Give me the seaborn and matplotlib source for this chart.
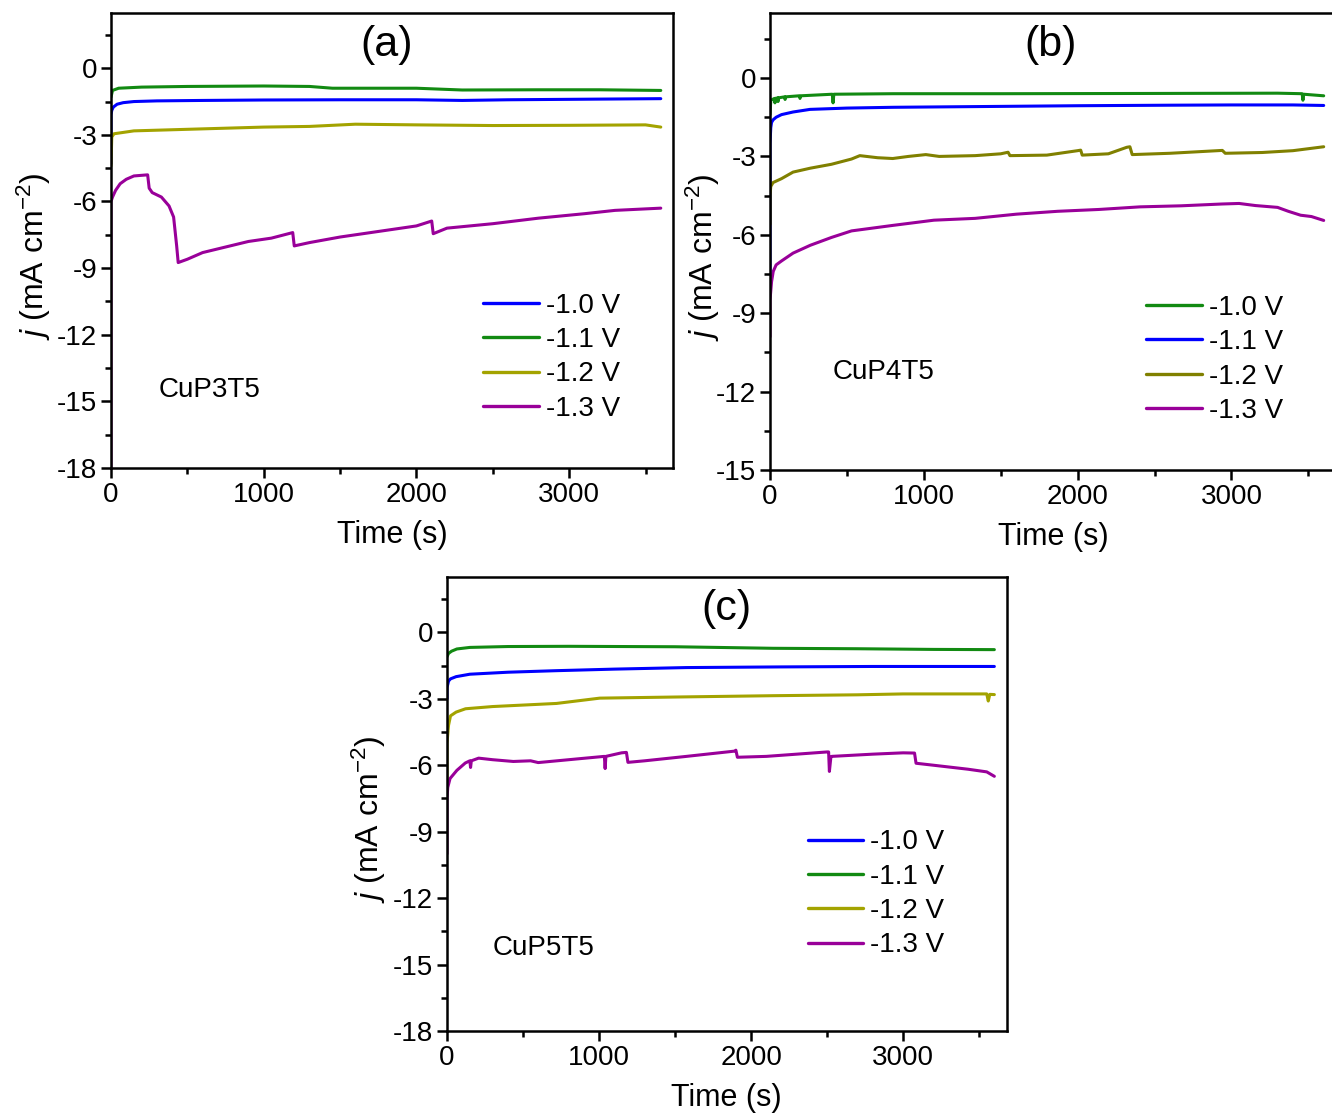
import matplotlib
matplotlib.use("Agg")
import matplotlib.pyplot as plt
from matplotlib.ticker import MultipleLocator
import numpy as np
import pandas as pd
import seaborn as sns

sns.set_style("ticks")
plt.rcParams["font.family"] = ["Liberation Sans", "DejaVu Sans"]
plt.rcParams["mathtext.fontset"] = "custom"
plt.rcParams["mathtext.rm"] = "Liberation Sans"
plt.rcParams["mathtext.it"] = "Liberation Sans:italic"
plt.rcParams["axes.unicode_minus"] = False
plt.rcParams["axes.edgecolor"] = "black"
plt.rcParams["xtick.color"] = "black"
plt.rcParams["ytick.color"] = "black"
plt.rcParams["text.color"] = "black"
plt.rcParams["axes.labelcolor"] = "black"

# ---- colours / labels
BLUE, GREEN, OLIVE_A, OLIVE_B, PURPLE = "#0000ff", "#128a12", "#a3a300", "#808000", "#990099"
voltages = ["-1.0 V", "-1.1 V", "-1.2 V", "-1.3 V"]

# ---- panel (a) CuP3T5 : -1.0 blue, -1.1 green, -1.2 olive, -1.3 purple
a_t_10 = [0, 0, 5, 15, 40, 80, 150, 300, 600, 1000, 1500, 2000, 2300, 2600, 3000, 3600]
a_j_10 = [-4.3, -2.1, -1.9, -1.75, -1.62, -1.55, -1.5, -1.47, -1.45, -1.43, -1.42, -1.42, -1.45, -1.42, -1.40, -1.37]
a_t_11 = [0, 10, 50, 200, 500, 1000, 1300, 1450, 2000, 2300, 2800, 3200, 3600]
a_j_11 = [-1.3, -1.0, -0.9, -0.85, -0.82, -0.8, -0.82, -0.9, -0.9, -0.98, -0.97, -0.97, -1.0]
a_t_12 = [0, 5, 20, 150, 500, 1000, 1300, 1600, 2000, 2500, 3000, 3500, 3600]
a_j_12 = [-4.4, -3.1, -2.95, -2.82, -2.75, -2.65, -2.62, -2.52, -2.55, -2.58, -2.57, -2.55, -2.65]
a_t_13 = [0, 0, 10, 30, 60, 100, 150, 240, 250, 270, 330, 380, 410, 430, 440, 500, 600, 750, 900,
          1050, 1190, 1200, 1300, 1500, 1800, 2000, 2100, 2110, 2200, 2500, 2800, 3100, 3300, 3600]
a_j_13 = [-18, -6.0, -5.8, -5.5, -5.2, -5.0, -4.85, -4.8, -5.4, -5.6, -5.8, -6.2, -6.7, -8.0, -8.75,
          -8.6, -8.3, -8.05, -7.8, -7.65, -7.4, -8.0, -7.85, -7.6, -7.3, -7.1, -6.88, -7.45, -7.2,
          -7.0, -6.75, -6.55, -6.4, -6.3]

# ---- panel (b) CuP4T5 : -1.0 green, -1.1 blue, -1.2 olive, -1.3 purple
b_t_10 = [0, 5, 30, 32, 34, 50, 52, 54, 95, 98, 101, 190, 195, 200, 405, 410, 415, 800, 1500,
          2500, 3300, 3460, 3465, 3470, 3600]
b_j_10 = [-1.4, -0.85, -0.78, -0.95, -0.78, -0.76, -0.9, -0.76, -0.72, -0.82, -0.72, -0.68, -0.78,
          -0.68, -0.62, -0.95, -0.62, -0.6, -0.6, -0.59, -0.58, -0.6, -0.85, -0.62, -0.68]
b_t_11 = [0, 0, 5, 10, 20, 40, 75, 150, 260, 500, 800, 1200, 1600, 2000, 2600, 3000, 3400, 3600]
b_j_11 = [-7.8, -2.5, -1.9, -1.7, -1.6, -1.5, -1.4, -1.3, -1.2, -1.15, -1.12, -1.1, -1.08, -1.06,
          -1.04, -1.03, -1.03, -1.05]
b_t_12 = [0, 0, 5, 20, 75, 150, 262, 400, 530, 584, 700, 798, 900, 1013, 1100, 1334, 1500, 1548,
          1560, 1800, 2000, 2020, 2030, 2200, 2320, 2340, 2355, 2600, 2941, 2960, 3200, 3400, 3600]
b_j_12 = [-5.6, -4.5, -4.15, -4.0, -3.85, -3.6, -3.45, -3.3, -3.1, -2.97, -3.05, -3.08, -3.0,
          -2.93, -3.0, -2.97, -2.9, -2.84, -2.97, -2.95, -2.78, -2.76, -2.95, -2.9, -2.65, -2.63,
          -2.93, -2.88, -2.77, -2.88, -2.85, -2.78, -2.63]
b_t_13 = [0, 0, 10, 21, 40, 75, 150, 262, 400, 530, 798, 1066, 1334, 1602, 1870, 2138, 2406,
          2673, 2941, 3050, 3156, 3300, 3370, 3450, 3520, 3600]
b_j_13 = [-9.9, -8.5, -7.8, -7.4, -7.15, -7.0, -6.7, -6.4, -6.1, -5.85, -5.64, -5.44, -5.37,
          -5.21, -5.1, -5.03, -4.93, -4.89, -4.82, -4.8, -4.88, -4.95, -5.1, -5.25, -5.3, -5.45]

# ---- panel (c) CuP5T5 : -1.0 blue, -1.1 green, -1.2 olive, -1.3 purple
c_t_10 = [0, 0, 10, 23, 60, 150, 400, 720, 1100, 1575, 2200, 2800, 3600]
c_j_10 = [-3.0, -2.5, -2.2, -2.1, -2.0, -1.89, -1.8, -1.73, -1.66, -1.59, -1.56, -1.54, -1.54]
c_t_11 = [0, 10, 30, 65, 150, 400, 800, 1500, 2145, 2700, 3200, 3600]
c_j_11 = [-1.1, -0.95, -0.85, -0.75, -0.68, -0.64, -0.63, -0.65, -0.72, -0.74, -0.77, -0.78]
c_t_12 = [0, 0, 10, 23, 60, 122, 300, 720, 1005, 1500, 2145, 2700, 3000, 3550, 3560, 3570, 3600]
c_j_12 = [-7.0, -5.0, -4.2, -3.77, -3.6, -3.45, -3.35, -3.21, -2.97, -2.92, -2.86, -2.82, -2.78,
          -2.78, -3.1, -2.8, -2.81]
c_t_13 = [0, 0, 5, 20, 65, 120, 150, 155, 160, 208, 300, 436, 550, 600, 863, 1035, 1040, 1045,
          1148, 1180, 1190, 1300, 1575, 1895, 1900, 1910, 2100, 2500, 2510, 2515, 2525, 2531, 2800,
          3000, 3075, 3085, 3200, 3427, 3550, 3600]
c_j_13 = [-10.0, -7.5, -7.0, -6.6, -6.23, -5.9, -5.8, -6.1, -5.8, -5.68, -5.75, -5.83, -5.8,
          -5.88, -5.71, -5.6, -6.15, -5.6, -5.44, -5.42, -5.87, -5.8, -5.6, -5.36, -5.32, -5.64,
          -5.6, -5.4, -5.4, -6.28, -5.62, -5.6, -5.5, -5.44, -5.45, -5.91, -6.0, -6.18, -6.3, -6.5]

panels = [
    dict(series=[(a_t_10, a_j_10, BLUE), (a_t_11, a_j_11, GREEN), (a_t_12, a_j_12, OLIVE_A),
                 (a_t_13, a_j_13, PURPLE)],
         ylim=(-18, 2.5), rect=[0.08333, 0.57951, 0.42192, 0.40907], tag="(a)", tag_x=0.49,
         name="CuP3T5", name_xy=(0.084, 0.171), leg_xy=(0.662, 0.385), ylab_x=-0.104),
    dict(series=[(b_t_10, b_j_10, GREEN), (b_t_11, b_j_11, BLUE), (b_t_12, b_j_12, OLIVE_B),
                 (b_t_13, b_j_13, PURPLE)],
         ylim=(-15, 2.5), rect=[0.57808, 0.57772, 0.42492, 0.41087], tag="(b)", tag_x=0.495,
         name="CuP4T5", name_xy=(0.111, 0.214), leg_xy=(0.665, 0.383), ylab_x=-0.085),
    dict(series=[(c_t_10, c_j_10, BLUE), (c_t_11, c_j_11, GREEN), (c_t_12, c_j_12, OLIVE_A),
                 (c_t_13, c_j_13, PURPLE)],
         ylim=(-18, 2.5), rect=[0.33559, 0.07368, 0.42005, 0.40791], tag="(c)", tag_x=0.5,
         name="CuP5T5", name_xy=(0.082, 0.183), leg_xy=(0.645, 0.444), ylab_x=-0.106),
]

fig = plt.figure(figsize=(13.32, 11.13), dpi=100)

for p in panels:
    ax = fig.add_axes(p["rect"])
    for (t, j, col), lab in zip(p["series"], voltages):
        df = pd.DataFrame({"t": t, "j": j})
        sns.lineplot(data=df, x="t", y="j", ax=ax, color=col, lw=2.2, label=lab,
                     sort=False, estimator=None)
    ax.set_xlim(0, 3680)
    ax.set_ylim(*p["ylim"])
    ax.xaxis.set_major_locator(MultipleLocator(1000))
    ax.xaxis.set_minor_locator(MultipleLocator(500))
    ax.yaxis.set_major_locator(MultipleLocator(3))
    ax.yaxis.set_minor_locator(MultipleLocator(1.5))
    ax.tick_params(which="both", direction="out", width=1.8, labelsize=20, top=False, right=False)
    ax.tick_params(which="major", length=7, pad=3)
    ax.tick_params(which="minor", length=4)
    for s in ax.spines.values():
        s.set_visible(True)
        s.set_linewidth(1.8)
    ax.set_xlabel("Time (s)", fontsize=22, labelpad=9)
    ax.set_ylabel("$j$ (mA cm$^{-2}$)", fontsize=23)
    ax.yaxis.set_label_coords(p["ylab_x"], 0.465)
    ax.text(p["tag_x"], 0.93, p["tag"], transform=ax.transAxes, fontsize=31, ha="center",
            va="center")
    ax.text(p["name_xy"][0], p["name_xy"][1], p["name"], transform=ax.transAxes, fontsize=20,
            ha="left", va="center")
    leg = ax.legend(loc="upper left", bbox_to_anchor=p["leg_xy"], frameon=False, fontsize=20,
                    handlelength=2.0, handletextpad=0.25, labelspacing=0.3, borderpad=0,
                    borderaxespad=0)
    for h in leg.get_lines():
        h.set_linewidth(2.4)

fig.savefig("out.png", dpi=100)
